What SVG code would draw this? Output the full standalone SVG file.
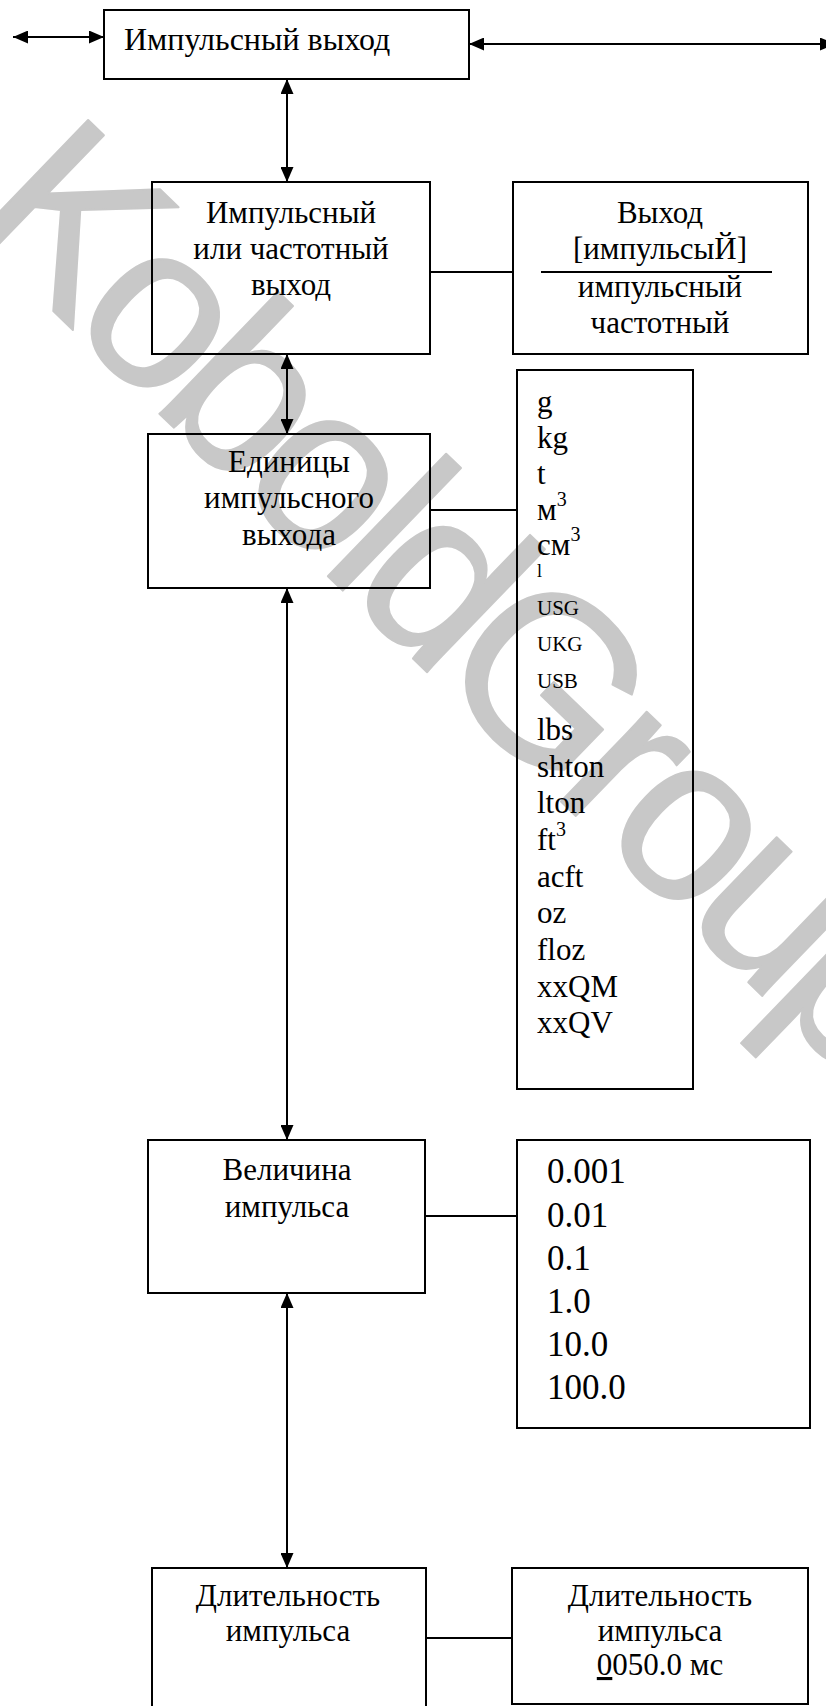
<svg xmlns="http://www.w3.org/2000/svg" width="826" height="1706" viewBox="0 0 826 1706">
<style>
.box{fill:none;stroke:#000;stroke-width:2}
.ln{fill:none;stroke:#000;stroke-width:2}
.t{font-family:"Liberation Serif","Times New Roman",serif;font-size:31px;fill:#000}
.c{text-anchor:middle}
.b1{font-size:32px}
.s{font-size:21px}
.tiny{font-size:18px}
.sup{font-size:20px}
.v{font-size:35px}
.wm{font-family:"Liberation Sans",Arial,sans-serif;font-size:235px;letter-spacing:-14px;fill:#c8c8c8;stroke:#c8c8c8;stroke-width:2;stroke-linejoin:round}
</style>
<defs>
<marker id="ah" viewBox="0 0 15 13" refX="15" refY="6.5" markerWidth="15" markerHeight="13" markerUnits="userSpaceOnUse" orient="auto-start-reverse">
<path d="M0,0 L15,6.5 L0,13 z" fill="#000"/>
</marker>
</defs>
<rect width="826" height="1706" fill="#fff"/>
<text class="wm" transform="translate(-38,223) rotate(44)">KoboldGroup</text>

<g id="connectors">
<line class="ln" x1="13" y1="37" x2="104" y2="37" marker-start="url(#ah)" marker-end="url(#ah)"/>
<line class="ln" x1="469" y1="44" x2="835" y2="44" marker-start="url(#ah)" marker-end="url(#ah)"/>
<line class="ln" x1="287" y1="79" x2="287" y2="182" marker-start="url(#ah)" marker-end="url(#ah)"/>
<line class="ln" x1="287" y1="354" x2="287" y2="434" marker-start="url(#ah)" marker-end="url(#ah)"/>
<line class="ln" x1="287" y1="588" x2="287" y2="1140" marker-start="url(#ah)" marker-end="url(#ah)"/>
<line class="ln" x1="287" y1="1293" x2="287" y2="1568" marker-start="url(#ah)" marker-end="url(#ah)"/>
<line class="ln" x1="430" y1="272" x2="513" y2="272"/>
<line class="ln" x1="430" y1="510" x2="517" y2="510"/>
<line class="ln" x1="425" y1="1216" x2="517" y2="1216"/>
<line class="ln" x1="425" y1="1638" x2="512" y2="1638"/>
</g>

<g id="pulse-output">
<rect class="box" x="104" y="10" width="365" height="69"/>
<text class="t b1" x="124" y="50">Импульсный выход</text>
</g>

<g id="pulse-or-freq">
<rect class="box" x="152" y="182" width="278" height="172"/>
<text class="t c" x="291" y="223">Импульсный</text>
<text class="t c" x="291" y="259">или частотный</text>
<text class="t c" x="291" y="295">выход</text>
</g>

<g id="output-select">
<rect class="box" x="513" y="182" width="295" height="172"/>
<text class="t c" x="660" y="223">Выход</text>
<text class="t c" x="660" y="259">[импульсыЙ]</text>
<line class="ln" x1="541" y1="272" x2="772" y2="272"/>
<text class="t c" x="660" y="297">импульсный</text>
<text class="t c" x="660" y="333">частотный</text>
</g>

<g id="pulse-units">
<rect class="box" x="148" y="434" width="282" height="154"/>
<text class="t c" x="289" y="472">Единицы</text>
<text class="t c" x="289" y="508">импульсного</text>
<text class="t c" x="289" y="545">выхода</text>
</g>

<g id="units-list">
<rect class="box" x="517" y="370" width="176" height="719"/>
<text class="t" x="537" y="412">g</text>
<text class="t" x="537" y="448">kg</text>
<text class="t" x="537" y="484">t</text>
<text class="t" x="537" y="520">м<tspan class="sup" dy="-14">3</tspan></text>
<text class="t" x="537" y="555">см<tspan class="sup" dy="-14">3</tspan></text>
<text class="t tiny" x="537" y="577">l</text>
<text class="t s" x="537" y="615">USG</text>
<text class="t s" x="537" y="651">UKG</text>
<text class="t s" x="537" y="688">USB</text>
<text class="t" x="537" y="740">lbs</text>
<text class="t" x="537" y="777">shton</text>
<text class="t" x="537" y="813">lton</text>
<text class="t" x="537" y="850">ft<tspan class="sup" dy="-14">3</tspan></text>
<text class="t" x="537" y="887">acft</text>
<text class="t" x="537" y="923">oz</text>
<text class="t" x="537" y="960">floz</text>
<text class="t" x="537" y="997">xxQM</text>
<text class="t" x="537" y="1033">xxQV</text>
</g>

<g id="pulse-value">
<rect class="box" x="148" y="1140" width="277" height="153"/>
<text class="t c" x="287" y="1180">Величина</text>
<text class="t c" x="287" y="1217">импульса</text>
</g>

<g id="value-list">
<rect class="box" x="517" y="1140" width="293" height="288"/>
<text class="t v" x="547" y="1183">0.001</text>
<text class="t v" x="547" y="1227">0.01</text>
<text class="t v" x="547" y="1270">0.1</text>
<text class="t v" x="547" y="1313">1.0</text>
<text class="t v" x="547" y="1356">10.0</text>
<text class="t v" x="547" y="1399">100.0</text>
</g>

<g id="pulse-duration">
<rect class="box" x="152" y="1568" width="274" height="150"/>
<text class="t c" x="288" y="1606">Длительность</text>
<text class="t c" x="288" y="1641">импульса</text>
</g>

<g id="duration-value">
<rect class="box" x="512" y="1568" width="296" height="136"/>
<text class="t c" x="660" y="1606">Длительность</text>
<text class="t c" x="660" y="1641">импульса</text>
<text class="t c" x="660" y="1675"><tspan text-decoration="underline">0</tspan>050.0 мс</text>
</g>
</svg>
